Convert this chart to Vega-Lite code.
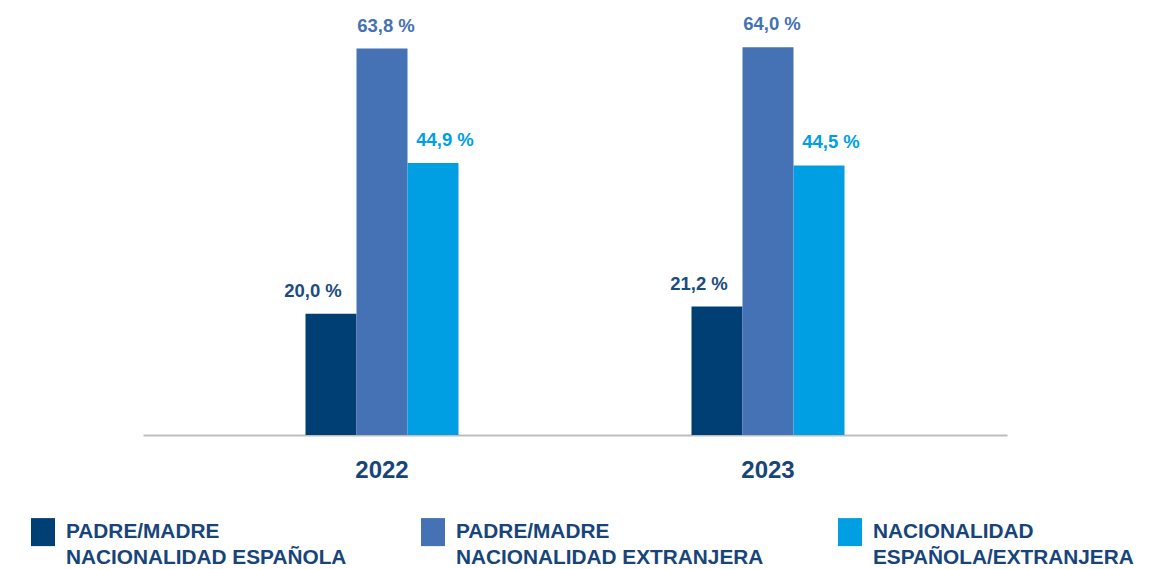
{
  "$schema": "https://vega.github.io/schema/vega-lite/v6.json",
  "autosize": {"type": "none"},
  "width": 864,
  "height": 424,
  "padding": {"left": 143, "top": 11, "right": 158, "bottom": 134},
  "background": "white",
  "config": {
    "view": {"stroke": null},
    "font": "Liberation Sans"
  },
  "data": {
    "values": [
      {"year": "2022", "grupo": "PADRE/MADRE|NACIONALIDAD ESPAÑOLA", "valor": 20.0},
      {"year": "2022", "grupo": "PADRE/MADRE|NACIONALIDAD EXTRANJERA", "valor": 63.8},
      {"year": "2022", "grupo": "NACIONALIDAD|ESPAÑOLA/EXTRANJERA", "valor": 44.9},
      {"year": "2023", "grupo": "PADRE/MADRE|NACIONALIDAD ESPAÑOLA", "valor": 21.2},
      {"year": "2023", "grupo": "PADRE/MADRE|NACIONALIDAD EXTRANJERA", "valor": 64.0},
      {"year": "2023", "grupo": "NACIONALIDAD|ESPAÑOLA/EXTRANJERA", "valor": 44.5}
    ]
  },
  "transform": [
    {"calculate": "replace(format(datum.valor, '.1f'), '.', ',') + ' %'", "as": "etiqueta"}
  ],
  "encoding": {
    "x": {
      "field": "year", "type": "nominal",
      "scale": {"paddingInner": 0.6036, "paddingOuter": 0.421},
      "axis": {
        "title": null, "ticks": false, "labelAngle": 0,
        "labelFontSize": 24, "labelFontWeight": "bold", "labelColor": "#17457a",
        "labelPadding": 23, "domainColor": "#bdbdbd", "domainWidth": 2, "domainOpacity": 1
      }
    },
    "xOffset": {
      "field": "grupo", "type": "nominal",
      "scale": {"paddingInner": 0, "paddingOuter": 0, "domain": ["PADRE/MADRE|NACIONALIDAD ESPAÑOLA", "PADRE/MADRE|NACIONALIDAD EXTRANJERA", "NACIONALIDAD|ESPAÑOLA/EXTRANJERA"]}
    },
    "y": {
      "field": "valor", "type": "quantitative",
      "scale": {"domain": [0, 70], "nice": false},
      "axis": null
    }
  },
  "layer": [
    {
      "mark": {"type": "bar"},
      "encoding": {
        "color": {
          "field": "grupo", "type": "nominal",
          "scale": {
            "domain": ["PADRE/MADRE|NACIONALIDAD ESPAÑOLA", "PADRE/MADRE|NACIONALIDAD EXTRANJERA", "NACIONALIDAD|ESPAÑOLA/EXTRANJERA"],
            "range": ["#003f73", "#4472b4", "#009fe3"]
          },
          "legend": {
            "title": null,
            "orient": "none",
            "direction": "horizontal",
            "columns": 3,
            "legendX": -114,
            "legendY": 507,
            "symbolType": "M-0.857,-1H0.857V1H-0.857Z",
            "symbolSize": 784,
            "symbolStrokeWidth": 0,
            "symbolOpacity": 1,
            "labelExpr": "split(datum.label, '|')",
            "labelFontSize": 20.8,
            "labelFontWeight": "bold",
            "labelColor": "#17457a",
            "labelLimit": 400,
            "labelOffset": 9,
            "columnPadding": 72,
            "encode": {"labels": {"update": {"lineHeight": {"value": 26}}}}
          }
        }
      }
    },
    {
      "transform": [{"filter": "datum.grupo == 'PADRE/MADRE|NACIONALIDAD ESPAÑOLA'"}],
      "mark": {"type": "text", "baseline": "bottom", "dy": -13, "dx": -18, "fontSize": 18.5, "fontWeight": "bold", "color": "#1a4c7e"},
      "encoding": {"text": {"field": "etiqueta"}}
    },
    {
      "transform": [{"filter": "datum.grupo == 'PADRE/MADRE|NACIONALIDAD EXTRANJERA'"}],
      "mark": {"type": "text", "baseline": "bottom", "dy": -13, "dx": 4, "fontSize": 18.5, "fontWeight": "bold", "color": "#4472b4"},
      "encoding": {"text": {"field": "etiqueta"}}
    },
    {
      "transform": [{"filter": "datum.grupo == 'NACIONALIDAD|ESPAÑOLA/EXTRANJERA'"}],
      "mark": {"type": "text", "baseline": "bottom", "dy": -13, "dx": 12, "fontSize": 18.5, "fontWeight": "bold", "color": "#009fe3"},
      "encoding": {"text": {"field": "etiqueta"}}
    }
  ]
}
